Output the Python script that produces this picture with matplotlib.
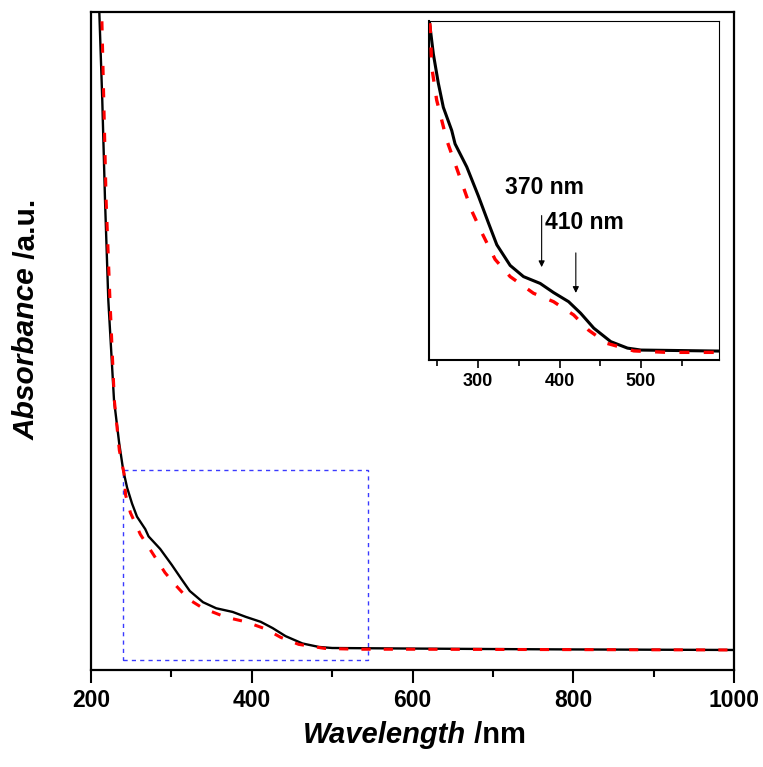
"""UV-vis absorbance spectra with zoomed inset."""
import matplotlib.pyplot as plt
from matplotlib.patches import Rectangle
from matplotlib.ticker import MultipleLocator

plt.rcParams['font.family'] = 'Liberation Sans'
plt.rcParams['font.weight'] = 'bold'

# solid black spectrum (wavelength nm, absorbance a.u.)
wl_black = [209.5, 210.3, 214.0, 217.4, 221.5, 228.6, 235.0, 240.0, 244.9, 251.0,
            257.2, 267.5, 271.6, 286.0, 300.3, 312.6, 322.9, 339.3, 355.7, 376.2,
            392.6, 411.1, 425.9, 442.1, 463.0, 483.5, 500.0, 594.0, 700.0, 800.0, 1000.0]
abs_black = [1.05, 1.00, 0.866, 0.714, 0.562, 0.410, 0.345, 0.304, 0.277, 0.253,
             0.233, 0.214, 0.203, 0.184, 0.160, 0.138, 0.120, 0.103, 0.0938, 0.0882,
             0.0807, 0.0732, 0.0637, 0.0514, 0.0403, 0.0350, 0.0334, 0.0326, 0.0318, 0.0312, 0.0304]

# dashed red spectrum
wl_red = [212.5, 213.3, 218.8, 223.6, 229.0, 235.2, 241.0, 243.0, 249.0, 261.4,
          275.7, 292.0, 304.4, 320.8, 339.3, 368.0, 392.6, 417.3, 435.8, 458.4,
          491.3, 532.4, 594.0, 1000.0]
abs_red = [1.05, 1.00, 0.714, 0.562, 0.410, 0.334, 0.299, 0.266, 0.239, 0.206,
           0.179, 0.148, 0.130, 0.108, 0.0938, 0.0801, 0.0732, 0.0623, 0.0497, 0.0389,
           0.0327, 0.0315, 0.0315, 0.0304]

# zoom window shown in the inset
zoom_x = (240, 545)
zoom_y = (0.0152, 0.304)

fig = plt.figure(figsize=(7.63, 7.67), dpi=100)
ax = fig.add_axes([0.1193, 0.1265, 0.8427, 0.8579])

ax.plot(wl_black, abs_black, color='black', lw=1.7, zorder=3)
ax.plot(wl_red, abs_red, color='red', lw=2.2, ls=(0, (3, 4.3)), zorder=4)
ax.add_patch(Rectangle((zoom_x[0], zoom_y[0]), zoom_x[1] - zoom_x[0],
                       zoom_y[1] - zoom_y[0], fill=False, ec='#3a3aff',
                       lw=1.0, ls=(0, (3, 3)), zorder=2))

ax.set_xlim(200, 1000)
ax.set_ylim(0, 1.0)
ax.xaxis.set_major_locator(MultipleLocator(200))
ax.xaxis.set_minor_locator(MultipleLocator(100))
ax.set_yticks([])
ax.tick_params(axis='x', which='major', direction='out', length=9, width=1.5,
               labelsize=16.5, pad=5)
ax.tick_params(axis='x', which='minor', direction='out', length=5, width=1.5)
for s in ax.spines.values():
    s.set_linewidth(1.6)

# axis labels: italic word + upright unit
fig.text(0.611, 0.0313, 'Wavelength', fontsize=21, fontweight='bold',
         fontstyle='italic', ha='right', va='baseline')
fig.text(0.611, 0.0313, ' /nm', fontsize=21, fontweight='bold',
         ha='left', va='baseline')
fig.text(0.0459, 0.652, 'Absorbance', fontsize=21.5, fontweight='bold',
         fontstyle='italic', rotation=90, rotation_mode='anchor',
         ha='right', va='baseline')
fig.text(0.0459, 0.652, ' /a.u.', fontsize=21.5, fontweight='bold',
         rotation=90, rotation_mode='anchor', ha='left', va='baseline')

# inset
axi = fig.add_axes([0.5627, 0.5306, 0.3797, 0.442])
axi.plot(wl_black, abs_black, color='black', lw=2.2, zorder=3)
axi.plot(wl_red, abs_red, color='red', lw=2.4, ls=(0, (3, 4.3)), zorder=4)
axi.set_xlim(240, 596)
axi.set_ylim(0.0252, 0.304)
axi.xaxis.set_major_locator(MultipleLocator(100))
axi.xaxis.set_minor_locator(MultipleLocator(50))
axi.set_yticks([])
axi.tick_params(axis='x', which='major', direction='out', length=6, width=1.2,
                labelsize=13, pad=3)
axi.tick_params(axis='x', which='minor', direction='out', length=4, width=1.2)
axi.spines['bottom'].set_linewidth(1.5)
axi.spines['left'].set_linewidth(1.5)
axi.spines['top'].set_linewidth(0.8)
axi.spines['right'].set_linewidth(0.8)

arrow = dict(arrowstyle='-|>', color='black', lw=0.8, mutation_scale=9,
             shrinkA=0, shrinkB=0)
axi.annotate('', xy=(378, 0.1016), xytext=(378, 0.144), arrowprops=arrow)
axi.annotate('', xy=(420, 0.0804), xytext=(420, 0.1133), arrowprops=arrow)
axi.text(381, 0.167, '370 nm', fontsize=16.5, fontweight='bold',
         ha='center', va='center')
axi.text(431, 0.138, '410 nm', fontsize=16.5, fontweight='bold',
         ha='center', va='center')

fig.savefig('out.png', dpi=100)
